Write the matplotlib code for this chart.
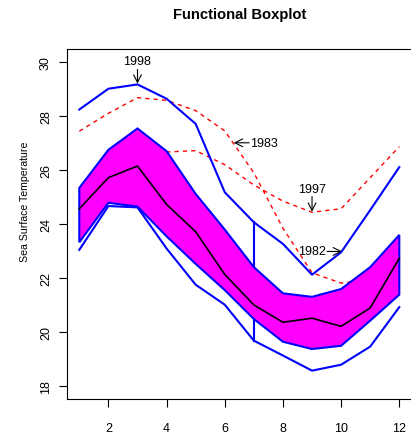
import numpy as np
import matplotlib.pyplot as plt

plt.rcParams['font.family'] = ['Liberation Sans', 'DejaVu Sans']

# monthly sea surface temperature
months = np.arange(1, 13)
upper_whisker = [28.24, 29.01, 29.17, 28.64, 27.71, 25.18, 24.07, 23.27, 22.13, 22.96, 24.52, 26.11]
box_upper = [25.34, 26.75, 27.54, 26.70, 25.12, 23.80, 22.41, 21.44, 21.31, 21.60, 22.41, 23.60]
median = [24.57, 25.72, 26.15, 24.73, 23.72, 22.14, 21.01, 20.37, 20.52, 20.22, 20.90, 22.74]
box_lower = [23.33, 24.79, 24.65, 23.55, 22.53, 21.56, 20.49, 19.65, 19.38, 19.50, 20.43, 21.39]
lower_whisker = [23.05, 24.67, 24.62, 23.10, 21.76, 21.02, 19.69, 19.14, 18.58, 18.80, 19.47, 20.93]

# outlying years (dashed)
sst_1983 = [27.44, 28.10, 28.68, 28.58, 28.20, 27.45, 25.90, 23.85, 22.20, 21.82, 21.95, 22.60]
sst_1997 = [25.00, 26.30, 26.90, 26.67, 26.72, 26.20, 25.45, 24.85, 24.44, 24.57, 25.72, 26.87]

# labels: text, text position, arrow tail, arrow tip
notes = [
    ('1998', (3.0, 30.02), (3.0, 29.72), (3.0, 29.20)),
    ('1983', (6.86, 27.01), (6.84, 27.01), (6.31, 27.01)),
    ('1997', (9.0, 25.30), (9.0, 25.02), (9.0, 24.46)),
    ('1982', (9.0, 22.99), (9.52, 22.99), (10.03, 22.99)),
]

xticks = [2, 4, 6, 8, 10, 12]
yticks = [18, 20, 22, 24, 26, 28, 30]

fig = plt.figure(figsize=(4.11, 4.35), dpi=100)
ax = fig.add_axes([66.5 / 411, (435 - 400.3) / 435, 345.6 / 411, 350.3 / 435])

for yr in (sst_1983, sst_1997):
    ax.plot(months, yr, color='#FF0000', lw=1.0, ls=(0, (3, 3)), zorder=1)

# central box
ax.fill(np.r_[months, months[::-1]], np.r_[box_upper, box_lower[::-1]],
        facecolor='#FF00FF', edgecolor='#0000FF', lw=1.5, zorder=2)

# whiskers and the connecting segments at month 7
ax.plot(months, upper_whisker, color='#0000FF', lw=1.5, zorder=3)
ax.plot(months, lower_whisker, color='#0000FF', lw=1.5, zorder=3)
mid = 6
ax.plot([months[mid], months[mid]], [box_upper[mid], upper_whisker[mid]], color='#0000FF', lw=1.5, zorder=3)
ax.plot([months[mid], months[mid]], [lower_whisker[mid], box_lower[mid]], color='#0000FF', lw=1.5, zorder=3)

ax.plot(months, median, color='black', lw=1.2, zorder=4)

for label, txt, tail, tip in notes:
    ax.annotate('', xy=tip, xytext=tail,
                arrowprops=dict(arrowstyle='->,head_length=0.55,head_width=0.28',
                                lw=0.8, color='black', shrinkA=0, shrinkB=0))
    ha = 'left' if label == '1983' else 'center'
    ax.text(txt[0], txt[1], label, ha=ha, va='center', fontsize=9)

ax.set_xlim(0.56, 12.44)
ax.set_ylim(17.52, 30.48)
ax.set_xticks(xticks)
ax.set_yticks(yticks, [str(v) for v in yticks], rotation=90, va='center')
ax.tick_params(direction='out', length=5.8, width=0.8, labelsize=9, color='black')
ax.tick_params(axis='x', pad=10.5)
ax.tick_params(axis='y', pad=4.7)
for s in ax.spines.values():
    s.set_linewidth(0.8)
    s.set_color('black')

ax.set_ylabel('Sea Surface Temperature', fontsize=7.6)
ax.yaxis.set_label_coords(-0.105, 0.567)
ax.set_title('Functional Boxplot', fontsize=10.6, fontweight='bold', pad=22)

fig.savefig('out.png', dpi=100)
